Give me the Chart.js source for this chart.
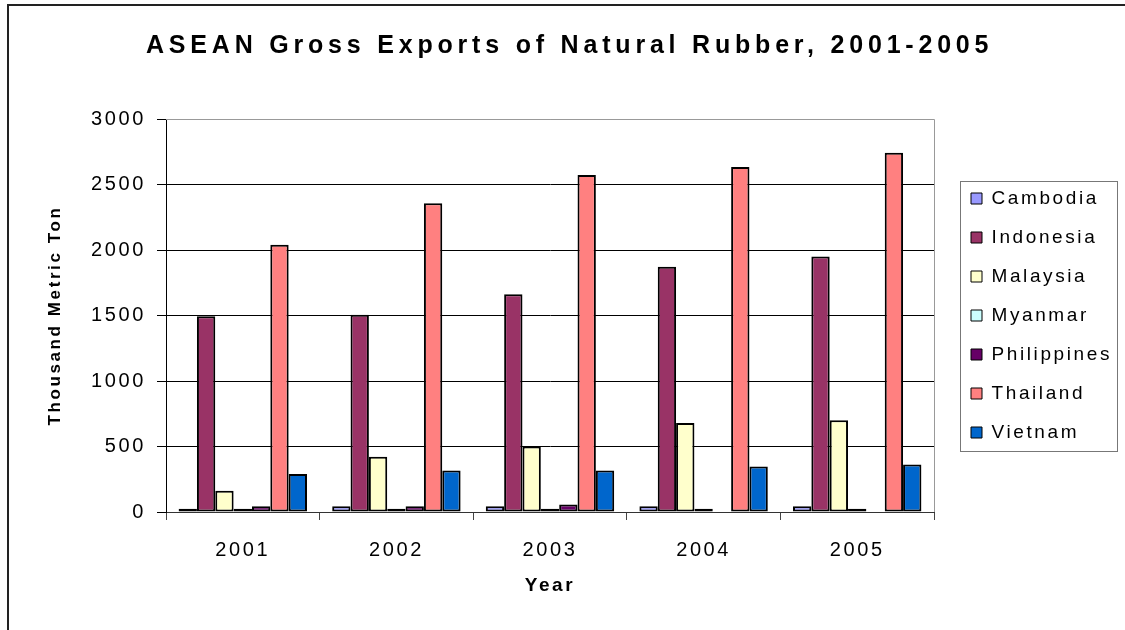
<!DOCTYPE html>
<html>
<head>
<meta charset="utf-8">
<script src="https://cdn.jsdelivr.net/npm/chart.js@4/dist/chart.umd.min.js"></script>
<style>
    html, body { margin: 0; padding: 0; background: #fff; overflow: hidden; }
    #wrap { position: relative; width: 1125px; height: 630px; }
    #chart { position: absolute; left: 0; top: 0; }
    #frame {
        position: absolute; left: 7px; top: 4px; right: -10px; bottom: -10px;
        border: 2px solid #222;
    }
    #title {
        position: absolute; left: 146px; top: 32px;
        font: bold 25px "Liberation Sans", Arial, sans-serif;
        line-height: 25px; letter-spacing: 4.8px; color: #000; white-space: nowrap;
    }
</style>
</head>
<body>
<div id="wrap">
    <canvas id="chart" width="1125" height="630"></canvas>
    <div id="frame"></div>
    <div id="title">ASEAN Gross Exports of Natural Rubber, 2001-2005</div>
</div>
<script>
// Data (thousand metric tons)
const years = ['2001', '2002', '2003', '2004', '2005'];
const cambodia = [25, 43, 43, 43, 43];
const indonesia = [1495, 1505, 1663, 1873, 1950];
const malaysia = [163, 422, 500, 680, 700];
const myanmar = [25, 25, 25, 25, 25];
const philippines = [43, 43, 58, null, null];
const thailand = [2040, 2357, 2573, 2634, 2743];
const vietnam = [290, 317, 317, 348, 363];
const yTicks = [0, 500, 1000, 1500, 2000, 2500, 3000];

const series = [
    { label: 'Cambodia', data: cambodia, color: '#9999FF' },
    { label: 'Indonesia', data: indonesia, color: '#993366' },
    { label: 'Malaysia', data: malaysia, color: '#FFFFCC' },
    { label: 'Myanmar', data: myanmar, color: '#CCFFFF' },
    { label: 'Philippines', data: philippines, color: '#660066' },
    { label: 'Thailand', data: thailand, color: '#FF8080' },
    { label: 'Vietnam', data: vietnam, color: '#0066CC' }
];

const FONT = '"Liberation Sans", Arial, sans-serif';

// spaced-out lettering like the original export
const spacing = {
    id: 'spacing',
    beforeLayout(chart) { chart.ctx.letterSpacing = '2.6px'; },
    beforeDraw(chart) { chart.ctx.letterSpacing = '2.6px'; },
    afterLayout(chart) {
        // push the legend a bit away from the plot
        chart.legend.left += 17;
        chart.legend.right += 17;
    },
    beforeDatasetsDraw(chart) {
        const { ctx, chartArea: a } = chart;
        ctx.save();
        ctx.strokeStyle = '#999';
        ctx.lineWidth = 1;
        ctx.beginPath();
        const t = Math.round(a.top) + 0.5, r = Math.round(a.right) + 0.5;
        ctx.moveTo(a.left, t);
        ctx.lineTo(r, t);
        ctx.lineTo(r, a.bottom);
        ctx.stroke();
        ctx.restore();
    },
    afterDraw(chart) {
        // legend frame
        const hb = chart.legend.legendHitBoxes;
        if (!hb || !hb.length) return;
        const ctx = chart.ctx;
        const left = hb[0].left - 11;
        const top = hb[0].top - 8;
        const bottom = hb[hb.length - 1].top + hb[hb.length - 1].height + 9;
        ctx.save();
        ctx.strokeStyle = '#777';
        ctx.lineWidth = 1;
        ctx.strokeRect(Math.round(left) + 0.5, Math.round(top) + 0.5, 1117 - Math.round(left), Math.round(bottom - top));
        ctx.restore();
    }
};

new Chart(document.getElementById('chart'), {
    type: 'bar',
    data: {
        labels: years,
        datasets: series.map(s => ({
            label: s.label,
            data: s.data,
            backgroundColor: s.color,
            borderColor: '#000',
            borderWidth: 2,
            borderSkipped: false,
            categoryPercentage: 0.836,
            barPercentage: 1
        }))
    },
    options: {
        responsive: false,
        animation: false,
        layout: { padding: { left: 0, right: 20, top: 119, bottom: 0 } },
        plugins: {
            legend: {
                position: 'right',
                fullSize: false,
                labels: {
                    color: '#000',
                    font: { family: FONT, size: 19 },
                    boxWidth: 11,
                    boxHeight: 11,
                    padding: 20,
                    generateLabels(chart) {
                        const items = Chart.defaults.plugins.legend.labels.generateLabels(chart);
                        items.forEach(it => { it.lineWidth = 1; });
                        return items;
                    }
                }
            },
            title: { display: false },
            tooltip: { enabled: false }
        },
        scales: {
            x: {
                afterFit(scale) { scale.height = 118; },
                grid: {
                    offset: true,
                    drawOnChartArea: false,
                    drawTicks: true,
                    tickLength: 8,
                    color: '#444'
                },
                border: { color: '#333', width: 1 },
                ticks: {
                    color: '#000',
                    padding: 18,
                    font: { family: FONT, size: 20 }
                },
                title: {
                    display: true,
                    text: 'Year',
                    color: '#000',
                    font: { family: FONT, size: 19, weight: 'bold' },
                    padding: { bottom: 33 }
                }
            },
            y: {
                min: 0,
                max: 3000,
                afterFit(scale) { scale.width = 166; },
                afterBuildTicks(scale) { scale.ticks = yTicks.map(v => ({ value: v })); },
                grid: {
                    color: ctx => (ctx.tick && ctx.tick.value === 3000 ? '#999' : '#000'),
                    lineWidth: 1,
                    tickLength: 9,
                    tickColor: '#000'
                },
                border: { color: '#000', width: 1 },
                ticks: {
                    color: '#000',
                    padding: 11,
                    font: { family: FONT, size: 20 },
                    callback: v => String(v)
                },
                title: {
                    display: true,
                    text: 'Thousand Metric Ton',
                    color: '#000',
                    font: { family: FONT, size: 17, weight: 'bold' },
                    padding: { top: 45 }
                }
            }
        }
    },
    plugins: [spacing]
});
</script>
</body>
</html>
